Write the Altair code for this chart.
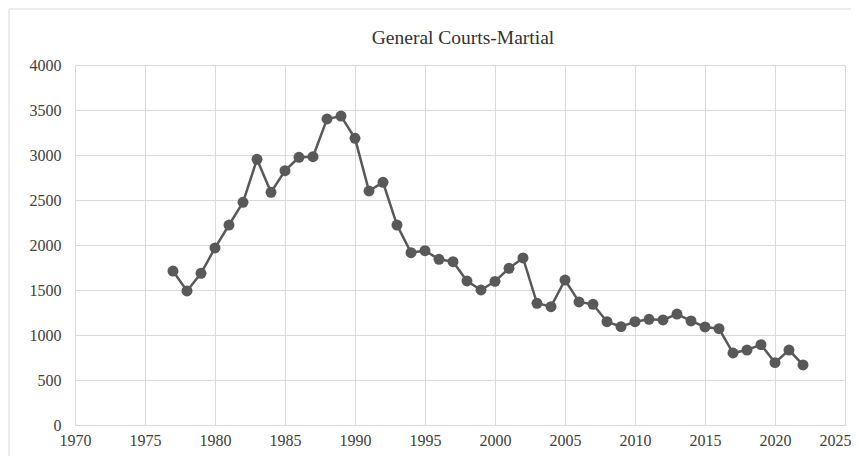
import altair as alt
import pandas as pd

title_text = "General Courts-Martial"
years = list(range(1977, 2023))
counts = [1711, 1489, 1685, 1967, 2222, 2474, 2952, 2585, 2826, 2974,
          2981, 3400, 3433, 3185, 2600, 2697, 2222, 1915, 1937, 1841,
          1815, 1600, 1500, 1596, 1741, 1856, 1352, 1315, 1611, 1367,
          1341, 1148, 1093, 1148, 1174, 1167, 1233, 1156, 1089, 1070,
          800, 833, 893, 693, 833, 667]
x_ticks = [1970, 1975, 1980, 1985, 1990, 1995, 2000, 2005, 2010, 2015, 2020, 2025]
y_ticks = [0, 500, 1000, 1500, 2000, 2500, 3000, 3500, 4000]

df = pd.DataFrame({"year": years, "count": counts})

FONT = "Liberation Serif"
LINE = "#595959"

x = alt.X("year:Q", scale=alt.Scale(domain=[1970, 2025], nice=False, zero=False),
          axis=alt.Axis(values=x_ticks, format="d", title=None, ticks=False,
                        labelFlush=False, labelPadding=7, grid=True,
                        labelFont=FONT, labelFontSize=16,
                        labelAlign={"condition": {"test": "datum.value == 2025", "value": "right"},
                                    "value": "center"},
                        labelOffset={"condition": {"test": "datum.value == 2025", "value": 6},
                                     "value": 0}))
y = alt.Y("count:Q", scale=alt.Scale(domain=[0, 4000], nice=False),
          axis=alt.Axis(values=y_ticks, format="d", title=None, ticks=False,
                        domain=False, labelPadding=14, grid=True,
                        labelFont=FONT, labelFontSize=16))

frame = alt.Chart(pd.DataFrame({"a": [0]})).mark_rect(
    fill=None, stroke="#d9d9d9", strokeWidth=1, clip=False
).encode(x=alt.value(-66), x2=alt.value(800), y=alt.value(-56), y2=alt.value(420))

title = alt.Chart(pd.DataFrame({"t": [title_text]})).mark_text(
    font=FONT, fontSize=19.5, color="#333333", align="center", baseline="middle",
    clip=False
).encode(x=alt.value(388), y=alt.value(-27), text="t:N")

line = alt.Chart(df).mark_line(color=LINE, strokeWidth=2.5).encode(x=x, y=y)
pts = alt.Chart(df).mark_circle(color=LINE, size=120, opacity=1).encode(x=x, y=y)

chart = alt.layer(frame, title, line, pts).properties(
    width=770, height=360,
    autosize=alt.AutoSizeParams(type="none"),
    padding={"left": 67, "top": 57, "right": 6, "bottom": 31},
).configure_view(stroke=None).configure_axis(
    labelColor="#404040",
    gridColor="#d9d9d9", gridWidth=1, domainColor="#d9d9d9", domainWidth=1,
)

chart.save("out.html", embed_options={"renderer": "svg", "actions": False})
